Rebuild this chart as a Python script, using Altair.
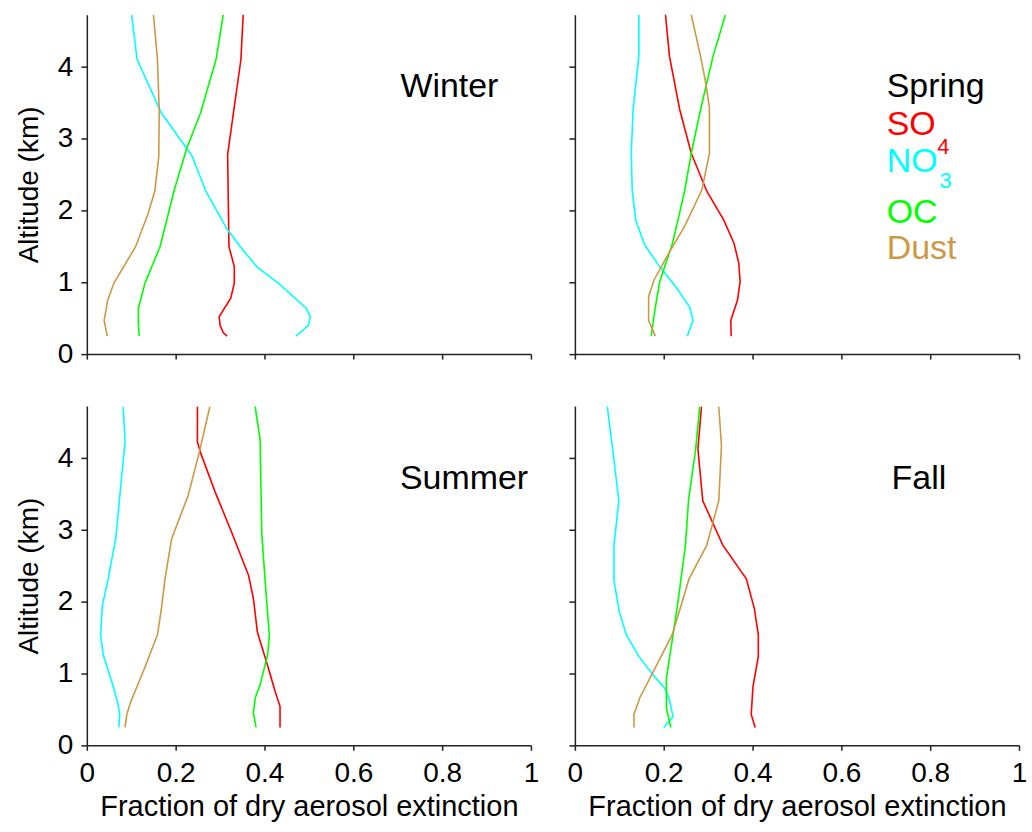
import altair as alt
import pandas as pd

FONT = "Liberation Sans"

species = ["SO4", "NO3", "OC", "Dust"]
colors = ["#ff0000", "#00ffff", "#00ff00", "#cc9944"]

# (altitude km, fraction) pairs
winter_so4 = [(4.73, .352), (4.11, .347), (2.78, .317), (1.50, .320), (1.22, .332), (0.99, .332),
              (0.78, .324), (0.52, .298), (0.40, .300), (0.30, .307), (0.25, .316)]
winter_no3 = [(4.73, .101), (4.11, .113), (3.36, .168), (2.76, .237), (2.27, .268), (1.75, .315),
              (1.50, .345), (1.21, .384), (0.99, .431), (0.64, .494), (0.52, .503), (0.40, .499), (0.25, .471)]
winter_oc = [(4.73, .307), (4.11, .291), (3.36, .256), (2.87, .225), (2.29, .197), (1.50, .165),
             (0.99, .131), (0.64, .116), (0.43, .116), (0.25, .118)]
winter_dust = [(4.73, .150), (4.11, .159), (3.41, .163), (2.76, .162), (2.27, .153), (1.96, .138),
               (1.50, .110), (1.22, .083), (0.99, .061), (0.75, .047), (0.47, .039), (0.25, .046)]

spring_so4 = [(4.73, .204), (4.15, .213), (3.41, .236), (2.80, .262), (2.27, .297), (1.87, .335),
              (1.55, .358), (1.27, .369), (1.01, .372), (0.75, .366), (0.47, .351), (0.25, .352)]
spring_no3 = [(4.73, .144), (4.15, .144), (3.41, .131), (2.80, .127), (2.29, .129), (1.87, .137),
              (1.52, .157), (1.22, .191), (0.94, .227), (0.66, .258), (0.47, .266), (0.25, .253)]
spring_oc = [(4.73, .339), (4.15, .311), (3.41, .283), (2.80, .262), (2.27, .247), (1.55, .220),
             (1.01, .191), (0.61, .180), (0.25, .172)]
spring_dust = [(4.73, .262), (4.15, .283), (3.80, .294), (3.43, .303), (2.80, .303), (2.29, .286),
               (1.78, .247), (1.36, .207), (1.03, .178), (0.80, .166), (0.47, .166), (0.25, .181)]

summer_so4 = [(4.72, .249), (4.23, .249), (4.08, .256), (3.53, .289), (2.97, .326), (2.37, .364),
              (2.05, .375), (1.58, .384), (1.07, .409), (0.75, .424), (0.54, .435), (0.25, .435)]
summer_no3 = [(4.72, .082), (4.23, .086), (2.88, .065), (2.32, .048), (1.95, .035), (1.54, .031),
              (1.26, .037), (0.89, .056), (0.61, .069), (0.43, .074), (0.25, .072)]
summer_oc = [(4.72, .379), (4.27, .390), (2.93, .394), (2.00, .405), (1.54, .411), (1.26, .407),
             (0.84, .390), (0.66, .379), (0.45, .375), (0.25, .381)]
summer_dust = [(4.72, .277), (4.08, .253), (3.48, .228), (2.88, .191), (2.32, .176), (1.91, .168),
               (1.54, .159), (1.03, .127), (0.61, .099), (0.43, .090), (0.25, .086)]

fall_so4 = [(4.72, .285), (4.13, .277), (3.41, .288), (2.79, .333), (2.32, .386), (1.91, .404),
            (1.54, .413), (1.24, .413), (0.82, .401), (0.43, .397), (0.25, .406)]
fall_no3 = [(4.72, .073), (4.13, .085), (3.41, .099), (2.79, .088), (2.30, .088), (1.86, .100),
            (1.54, .116), (1.24, .144), (0.98, .176), (0.80, .202), (0.66, .212), (0.40, .221), (0.25, .200)]
fall_oc = [(4.72, .281), (4.13, .272), (3.43, .256), (2.79, .249), (2.00, .232), (1.54, .221),
           (0.94, .206), (0.52, .206), (0.25, .216)]
fall_dust = [(4.72, .324), (4.18, .330), (3.41, .324), (2.79, .297), (2.32, .257), (1.54, .219),
             (1.07, .180), (0.66, .146), (0.43, .133), (0.25, .133)]

curves = {
    "Winter": [winter_so4, winter_no3, winter_oc, winter_dust],
    "Spring": [spring_so4, spring_no3, spring_oc, spring_dust],
    "Summer": [summer_so4, summer_no3, summer_oc, summer_dust],
    "Fall": [fall_so4, fall_no3, fall_oc, fall_dust],
}

label_x = {"Winter": 0.706, "Spring": 0.702, "Summer": 0.705, "Fall": 0.713}
LABEL_Y = 3.58

rows = []
for season, sets in curves.items():
    for sp, pts in zip(species, sets):
        for a, f in pts:
            rows.append({"season": season, "species": sp, "alt": a, "frac": f})
df = pd.DataFrame(rows)

W, H = 445, 340
YMAX = 4.73


def panel(season, xlab, ylab):
    d = df[df.season == season]
    xaxis = alt.Axis(values=[0, 0.2, 0.4, 0.6, 0.8, 1], format="~g", labels=xlab, grid=False,
                     labelFlush=False,
                     domainColor="#222222", domainWidth=1.5, tickColor="#222222", tickWidth=1.5,
                     tickSize=5, labelFontSize=28, labelPadding=9, labelColor="black",
                     titleFontSize=29, titleFontWeight="normal", titleColor="black", titlePadding=5)
    yaxis = alt.Axis(values=[0, 1, 2, 3, 4], format="d", labels=ylab, grid=False,
                     domainColor="#222222", domainWidth=1.5, tickColor="#222222", tickWidth=1.5,
                     tickSize=6, labelFontSize=28, labelPadding=8, labelColor="black",
                     titleFontSize=28, titleFontWeight="normal", titleColor="black", titlePadding=14)
    lines = alt.Chart(d).mark_line(strokeWidth=1.6).encode(
        x=alt.X("frac:Q", scale=alt.Scale(domain=[0, 1], nice=False), axis=xaxis,
                title="Fraction of dry aerosol extinction" if xlab else None),
        y=alt.Y("alt:Q", scale=alt.Scale(domain=[0, YMAX], nice=False), axis=yaxis,
                title="Altitude (km)" if ylab else None),
        color=alt.Color("species:N", scale=alt.Scale(domain=species, range=colors), legend=None),
        order=alt.Order("alt:Q"),
        detail="species:N",
    )
    layers = [lines]
    if season == "Spring":
        lx = label_x["Spring"]
        leg = pd.DataFrame({
            "x": [lx, lx, lx + 0.114, lx, lx + 0.119, lx, lx],
            "y": [3.58, 3.06, 2.79, 2.54, 2.32, 1.83, 1.33],
            "t": ["Spring", "SO", "4", "NO", "3", "OC", "Dust"],
            "c": ["black", colors[0], colors[0], colors[1], colors[1], colors[2], colors[3]],
            "s": [34, 34, 22, 34, 22, 34, 34],
        })
        txt = alt.Chart(leg).mark_text(align="left", baseline="alphabetic", font=FONT).encode(
            x=alt.X("x:Q", scale=alt.Scale(domain=[0, 1], nice=False)),
            y=alt.Y("y:Q", scale=alt.Scale(domain=[0, YMAX], nice=False)),
            text="t:N",
            color=alt.Color("c:N", scale=None),
            size=alt.Size("s:Q", scale=None),
        )
    else:
        lab = pd.DataFrame({"x": [label_x[season]], "y": [LABEL_Y], "t": [season]})
        txt = alt.Chart(lab).mark_text(align="left", baseline="alphabetic", font=FONT,
                                       fontSize=34, color="black").encode(
            x=alt.X("x:Q", scale=alt.Scale(domain=[0, 1], nice=False)),
            y=alt.Y("y:Q", scale=alt.Scale(domain=[0, YMAX], nice=False)),
            text="t:N",
        )
    layers.append(txt)
    return alt.layer(*layers).properties(width=W, height=H)


chart = alt.concat(
    panel("Winter", False, True), panel("Spring", False, False),
    panel("Summer", True, True), panel("Fall", True, False),
    columns=2, spacing={"row": 35, "column": 28},
).properties(
    padding={"left": 15, "top": 10, "right": 5, "bottom": 5}
).configure(font=FONT).configure_view(stroke=None).configure_axis(labelFont=FONT, titleFont=FONT)

chart.save("out.html", embed_options={"renderer": "svg", "actions": False})
